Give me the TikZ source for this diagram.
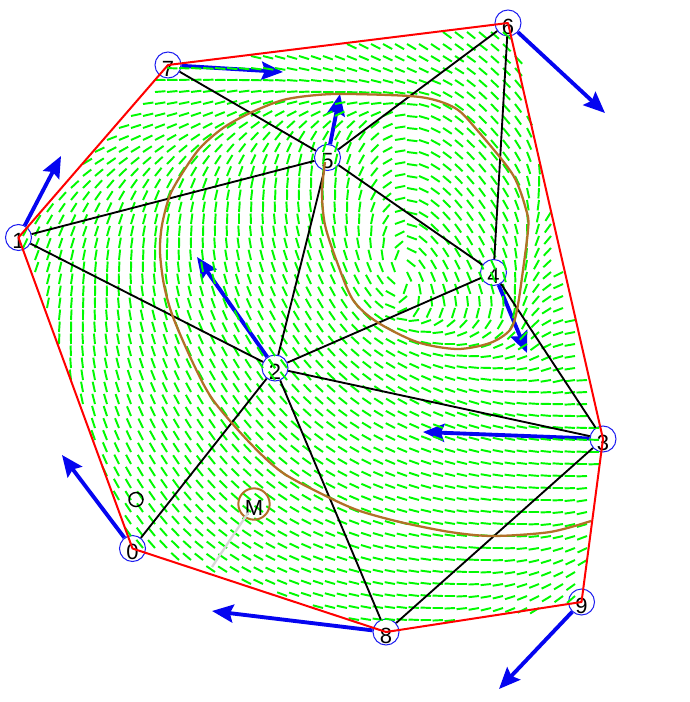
\documentclass[tikz,border=0pt]{standalone}
\usepackage{fontspec}
\setmainfont{Liberation Sans}
\usetikzlibrary{arrows.meta}
\tikzset{
  x=0.75pt,y=-0.75pt,
  vertexnode/.style={circle,draw={rgb,255:red,30;green,30;blue,240},line width=0.75pt,minimum size=19.5pt,inner sep=0pt,font=\fontsize{16.5}{16.5}\selectfont,text=black},
  edgeline/.style={draw=black,line width=1.4pt},
  hullline/.style={draw=red,line width=1.5pt,line join=round},
  vecarrow/.style={draw={rgb,255:red,5;green,5;blue,240},line width=2.9pt,-{Stealth[length=16pt,width=13.5pt,inset=2.5pt]}},
  fielddash/.style={draw={rgb,255:red,0;green,250;blue,0},line width=1.45pt},
  contour/.style={draw={rgb,255:red,178;green,112;blue,40},line width=1.7pt},
  marknode/.style={circle,draw={rgb,255:red,178;green,112;blue,40},line width=1.5pt,minimum size=23.5pt,inner sep=0pt,font=\fontsize{16.5}{16.5}\selectfont,text=black},
  smallmark/.style={circle,draw=black,line width=1.1pt,minimum size=10.5pt,inner sep=0pt},
  greyline/.style={draw={rgb,255:red,215;green,215;blue,215},line width=1.7pt}
}
\newcommand\VD[5]{%
  \expandafter\def\csname vx#1\endcsname{#2}%
  \expandafter\def\csname vy#1\endcsname{#3}%
  \expandafter\def\csname tx#1\endcsname{#4}%
  \expandafter\def\csname ty#1\endcsname{#5}}
\VD{0}{132.5}{548.5}{62}{455}
\VD{1}{18.5}{237.5}{61}{156}
\VD{2}{275}{368}{197}{257}
\VD{3}{603}{439}{423}{432}
\VD{4}{493.5}{272.5}{527}{353}
\VD{5}{327.5}{157.5}{340}{94}
\VD{6}{508}{23}{605}{113}
\VD{7}{168}{65}{283}{72}
\VD{8}{386}{632}{212}{611}
\VD{9}{581.5}{602}{499}{689}
\newcommand\vlab[1]{\raisebox{-8.4pt}[0pt][0pt]{#1}}
\newcommand\trifield[3]{%
  \pgfmathsetmacro\xa{\csname vx#1\endcsname/100}%
  \pgfmathsetmacro\ya{\csname vy#1\endcsname/100}%
  \pgfmathsetmacro\xb{\csname vx#2\endcsname/100}%
  \pgfmathsetmacro\yb{\csname vy#2\endcsname/100}%
  \pgfmathsetmacro\xc{\csname vx#3\endcsname/100}%
  \pgfmathsetmacro\yc{\csname vy#3\endcsname/100}%
  \pgfmathsetmacro\ua{\csname tx#1\endcsname/100-\xa}%
  \pgfmathsetmacro\va{\csname ty#1\endcsname/100-\ya}%
  \pgfmathsetmacro\ub{\csname tx#2\endcsname/100-\xb}%
  \pgfmathsetmacro\vb{\csname ty#2\endcsname/100-\yb}%
  \pgfmathsetmacro\uc{\csname tx#3\endcsname/100-\xc}%
  \pgfmathsetmacro\vc{\csname ty#3\endcsname/100-\yc}%
  \pgfmathsetmacro\dd{(\yb-\yc)*(\xa-\xc)+(\xc-\xb)*(\ya-\yc)}%
  \pgfmathsetmacro\aA{(\yb-\yc)/\dd}%
  \pgfmathsetmacro\bA{(\xc-\xb)/\dd}%
  \pgfmathsetmacro\aB{(\yc-\ya)/\dd}%
  \pgfmathsetmacro\bB{(\xa-\xc)/\dd}%
  \pgfmathtruncatemacro\imin{ceil((min(\xa,\xb,\xc)*100-167)/12)}%
  \pgfmathtruncatemacro\imax{floor((max(\xa,\xb,\xc)*100-167)/12)}%
  \pgfmathtruncatemacro\jmin{ceil((min(\ya,\yb,\yc)*100-68)/12)}%
  \pgfmathtruncatemacro\jmax{floor((max(\ya,\yb,\yc)*100-68)/12)}%
  \foreach \i in {\imin,...,\imax}{%
    \pgfmathsetmacro\gx{(167+12*\i)/100}%
    \foreach \j in {\jmin,...,\jmax}{%
      \pgfmathsetmacro\gy{(68+12*\j)/100}%
      \pgfmathsetmacro\la{\aA*(\gx-\xc)+\bA*(\gy-\yc)}%
      \pgfmathsetmacro\lb{\aB*(\gx-\xc)+\bB*(\gy-\yc)}%
      \pgfmathsetmacro\lc{1-\la-\lb}%
      \pgfmathtruncatemacro\ins{(\la>=0)&&(\lb>=0)&&(\lc>=0)}%
      \ifnum\ins=1
        \pgfmathsetmacro\uu{\la*\ua+\lb*\ub+\lc*\uc}%
        \pgfmathsetmacro\vv{\la*\va+\lb*\vb+\lc*\vc}%
        \pgfmathsetmacro\ln{max(veclen(\uu,\vv),0.001)}%
        \pgfmathsetmacro\ex{10.5*\uu/\ln}%
        \pgfmathsetmacro\ey{10.5*\vv/\ln}%
        \pgfmathsetmacro\px{\gx*100}%
        \pgfmathsetmacro\py{\gy*100}%
        \draw[fielddash] (\px,\py) -- ++(\ex,\ey);
      \fi
    }%
  }%
}
\begin{document}
\begin{tikzpicture}
\useasboundingbox (0,0) rectangle (689,702);
\fill[white] (0,0) rectangle (689,702);
% vertices
\foreach \k in {0,...,9}{
  \node[vertexnode] (v\k) at (\csname vx\k\endcsname,\csname vy\k\endcsname) {\vlab{\k}};
  \coordinate (t\k) at (\csname tx\k\endcsname,\csname ty\k\endcsname);
}
\foreach \k in {0,...,9}{ \draw[vecarrow] (v\k) -- (t\k); }
% field
\trifield{0}{1}{2}\trifield{1}{2}{5}\trifield{1}{5}{7}\trifield{5}{7}{6}
\trifield{5}{6}{4}\trifield{2}{5}{4}\trifield{2}{4}{3}\trifield{4}{6}{3}
\trifield{2}{3}{8}\trifield{3}{8}{9}\trifield{0}{2}{8}
% marker
\node[marknode] (M) at (254,504) {\vlab{M}};
\coordinate (Mend) at (212,567);
\draw[greyline,shorten <=8pt] (M.center) -- (Mend);
\node[smallmark] (o) at (136,499.5) {};
% mesh
\foreach \a/\b in {0/2,1/2,1/5,2/5,2/4,2/3,2/8,3/4,3/8,4/5,4/6,5/6,5/7}{
  \draw[edgeline] (v\a) -- (v\b);
}
% contour
\draw[contour,line join=round] plot[smooth,tension=0.5] coordinates {(591,521)(550,532)(493,536)(450,532)(400,522)(360,511)(330,498)(283,473)(250,443)(213,400)(193,363)(173,317)(164,285)(160,252)(162,225)(170,195)(183,172)(200,148)(223,128)(250,113)(283,100)(317,95)(350,94)(420,97)(455,108)(477,130)(513,175)(527,213)(528,230)(523,270)(517,310)(510,330)(490,343)(457,349)(417,342)(377,322)(353,300)(337,262)(325,225)(322,192)(325,162)};
% hull
\draw[hullline] (v7.center) -- (v6.center) -- (v3.center) -- (v9.center) -- (v8.center) -- (v0.center) -- (v1.center) -- cycle;
\end{tikzpicture}
\end{document}
